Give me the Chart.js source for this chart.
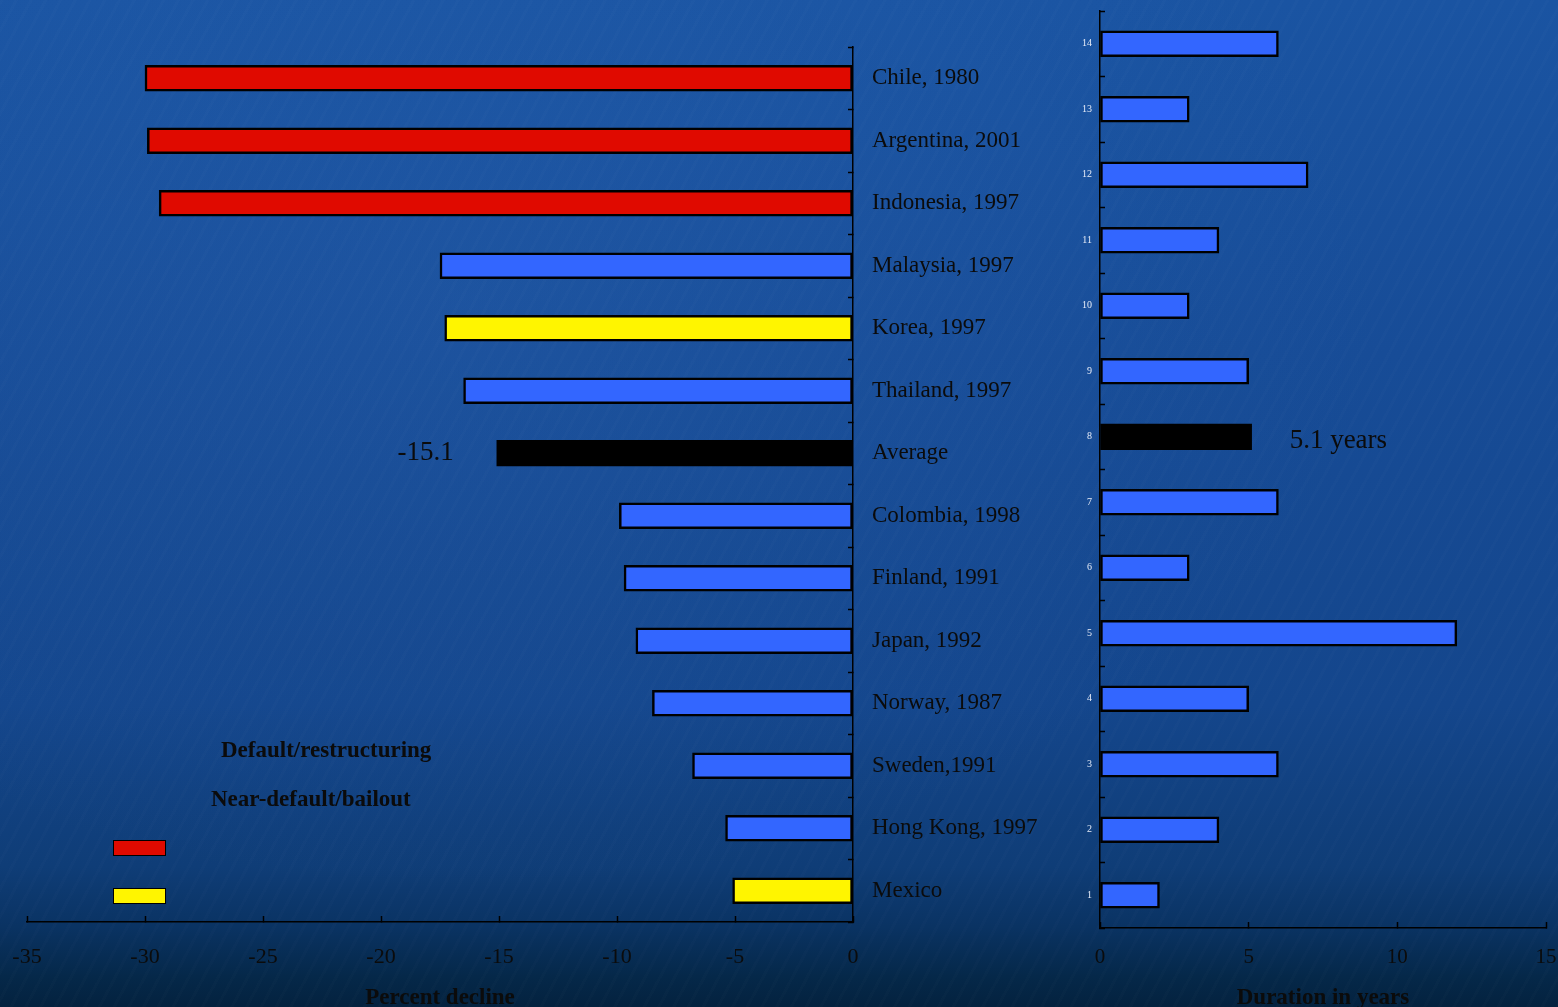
<!DOCTYPE html>
<html>
<head>
<meta charset="utf-8">
<script src="https://cdn.jsdelivr.net/npm/chart.js@4.4.0/dist/chart.umd.min.js"></script>
<style>
  html, body { margin: 0; padding: 0; }
  body {
    width: 1558px;
    height: 1007px;
    overflow: hidden;
    position: relative;
    font-family: "Liberation Serif", "Times New Roman", serif;
    background:
      repeating-linear-gradient(118deg, rgba(255,255,255,0.012) 0 3px, rgba(0,0,0,0) 3px 13px),
      radial-gradient(ellipse at 30% 30%, rgba(80,140,220,0.10), rgba(0,0,0,0) 60%),
      linear-gradient(180deg, #1a54a2 0%, #174c97 35%, #14468c 70%, #0f3d77 86%, #0a3363 92%, #052849 97%, #04223f 100%);
  }
  #left { position: absolute; left: 0; top: 0; width: 1060px; height: 1007px; }
  #right { position: absolute; left: 1060px; top: 0; width: 498px; height: 1007px; }
  .legend-text {
    position: absolute;
    font: bold 23px "Liberation Serif", serif;
    line-height: 23px;
    color: #0b0b0b;
    white-space: nowrap;
  }
  .swatch {
    position: absolute;
    width: 51px;
    height: 14px;
    border: 1.5px solid #000;
  }
</style>
</head>
<body>
<div id="left"><canvas id="declineChart"></canvas></div>
<div id="right"><canvas id="durationChart"></canvas></div>

<div class="legend-text" style="left:221px; top:738px;">Default/restructuring</div>
<div class="legend-text" style="left:211px; top:787px;">Near-default/bailout</div>
<div class="swatch" style="left:113px; top:840px; background:#e00a00;"></div>
<div class="swatch" style="left:113px; top:888px; background:#fff500;"></div>

<script>
// Left panel: output decline by crisis episode (top to bottom)
const episodes = [
  "Chile, 1980",
  "Argentina, 2001",
  "Indonesia, 1997",
  "Malaysia, 1997",
  "Korea, 1997",
  "Thailand, 1997",
  "Average",
  "Colombia, 1998",
  "Finland, 1991",
  "Japan, 1992",
  "Norway, 1987",
  "Sweden,1991",
  "Hong Kong, 1997",
  "Mexico",
];
const declines = [-30.0, -29.9, -29.4, -17.5, -17.3, -16.5, -15.1, -9.9, -9.7, -9.2, -8.5, -6.8, -5.4, -5.1];
const episodeGroups = [
  "default", "default", "default", "other", "bailout", "other", "average",
  "other", "other", "other", "other", "other", "other", "bailout",
];

// Right panel: duration in years (rows numbered 14 down to 1)
const durationRows = ["14", "13", "12", "11", "10", "9", "8", "7", "6", "5", "4", "3", "2", "1"];
const durations = [6, 3, 7, 4, 3, 5, 5.1, 6, 3, 12, 5, 6, 4, 2];
const durationGroups = [
  "other", "other", "other", "other", "other", "other", "average",
  "other", "other", "other", "other", "other", "other", "other",
];

const groupColors = {
  default: "#e00a00",
  bailout: "#fff500",
  other: "#3366ff",
  average: "#000000",
};

const serif = "'Liberation Serif', 'Times New Roman', serif";
const ink = "#0b0b0b";

// Writes the value next to the "average" bar
const averageLabel = {
  id: "averageLabel",
  afterDatasetsDraw(chart, args, opts) {
    const { ctx } = chart;
    const x = chart.scales.x;
    const y = chart.scales.y;
    const i = opts.index;
    const v = chart.data.datasets[0].data[i];
    ctx.save();
    ctx.font = "27px " + serif;
    ctx.fillStyle = ink;
    ctx.textAlign = opts.align;
    ctx.textBaseline = "middle";
    ctx.fillText(opts.text(v), x.getPixelForValue(v) + opts.dx, y.getPixelForValue(i) + opts.dy);
    ctx.restore();
  },
};

// Keep the plot area where the layout padding puts it
function noPadding(scale) {
  scale.paddingLeft = 0;
  scale.paddingRight = 0;
  scale.paddingTop = 0;
  scale.paddingBottom = 0;
}

let declineChart = new Chart(document.getElementById("declineChart"), {
  type: "bar",
  data: {
    labels: episodes,
    datasets: [
      {
        data: declines,
        backgroundColor: episodeGroups.map((g) => groupColors[g]),
        borderColor: "#000",
        borderWidth: 2.5,
        borderSkipped: false,
        barThickness: 26,
      },
    ],
  },
  options: {
    indexAxis: "y",
    responsive: true,
    maintainAspectRatio: false,
    animation: false,
    layout: { padding: { left: 27, top: 47, right: 0, bottom: 0 } },
    plugins: {
      legend: { display: false },
      tooltip: { enabled: false },
      averageLabel: { index: 6, align: "right", dx: -43, dy: 0, text: (v) => v.toFixed(1) },
    },
    scales: {
      x: {
        min: -35,
        max: 0,
        ticks: { stepSize: 5, color: ink, font: { family: serif, size: 22 }, padding: 28, maxRotation: 0 },
        grid: { drawOnChartArea: false, tickLength: -6, color: "#000", tickWidth: 1.5 },
        border: { color: "#000", width: 1.5 },
        title: {
          display: true,
          text: "Percent decline",
          color: ink,
          font: { family: serif, size: 23, weight: "bold" },
          padding: { top: 0, bottom: -5 },
        },
        afterFit(scale) { scale.height = 85; noPadding(scale); },
      },
      y: {
        position: "right",
        ticks: { color: ink, font: { family: serif, size: 23 }, padding: 24 },
        grid: { drawOnChartArea: false, tickLength: -5, color: "#000", tickWidth: 1.5, offset: true },
        border: { color: "#000", width: 1.5 },
        afterFit(scale) { scale.width = 207; noPadding(scale); },
      },
    },
  },
  plugins: [averageLabel],
});

let durationChart = new Chart(document.getElementById("durationChart"), {
  type: "bar",
  data: {
    labels: durationRows,
    datasets: [
      {
        data: durations,
        backgroundColor: durationGroups.map((g) => groupColors[g]),
        borderColor: "#000",
        borderWidth: 2.5,
        borderSkipped: false,
        barThickness: 26,
      },
    ],
  },
  options: {
    indexAxis: "y",
    responsive: true,
    maintainAspectRatio: false,
    animation: false,
    layout: { padding: { left: 0, top: 11, right: 12, bottom: 0 } },
    plugins: {
      legend: { display: false },
      tooltip: { enabled: false },
      averageLabel: { index: 6, align: "left", dx: 38, dy: 4, text: (v) => v + " years" },
    },
    scales: {
      x: {
        min: 0,
        max: 15,
        ticks: { stepSize: 5, color: ink, font: { family: serif, size: 21 }, padding: 23, maxRotation: 0 },
        grid: { drawOnChartArea: false, tickLength: -6, color: "#000", tickWidth: 1.5 },
        border: { color: "#000", width: 1.5 },
        title: {
          display: true,
          text: "Duration in years",
          color: ink,
          font: { family: serif, size: 23, weight: "bold" },
          padding: { top: 0, bottom: -5 },
        },
        afterFit(scale) { scale.height = 79; noPadding(scale); },
      },
      y: {
        position: "left",
        ticks: { color: "#e6ecf8", font: { family: serif, size: 10 }, padding: 13 },
        grid: { drawOnChartArea: false, tickLength: -5, color: "#000", tickWidth: 1.5, offset: true },
        border: { color: "#000", width: 1.5 },
        afterFit(scale) { scale.width = 40; noPadding(scale); },
      },
    },
  },
  plugins: [averageLabel],
});
</script>
</body>
</html>
